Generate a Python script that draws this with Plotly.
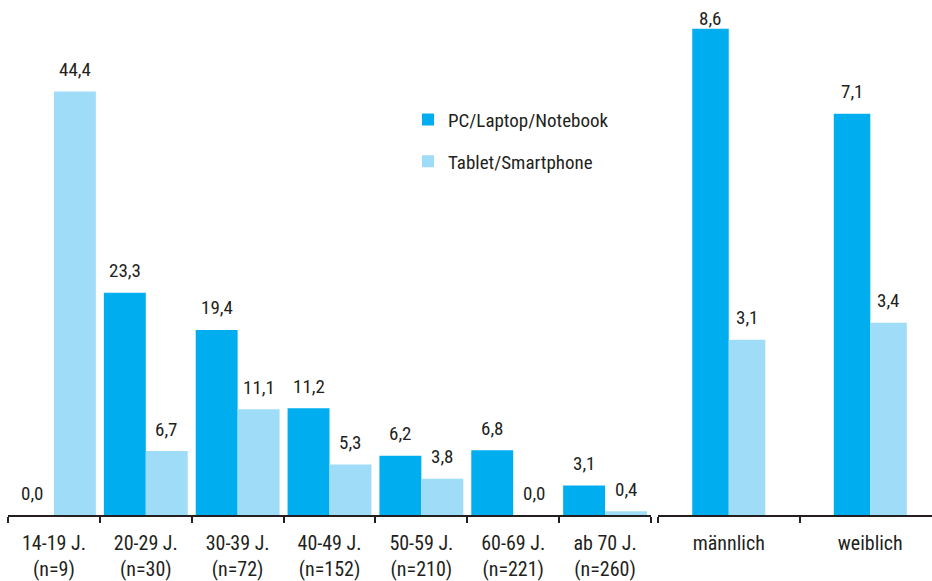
import plotly.graph_objects as go

# Share of respondents by device, split by age group and by gender
age_groups = ["14-19 J.<br>(n=9)", "20-29 J.<br>(n=30)", "30-39 J.<br>(n=72)",
              "40-49 J.<br>(n=152)", "50-59 J.<br>(n=210)", "60-69 J.<br>(n=221)",
              "ab 70 J.<br>(n=260)"]
pc_age = [0.0, 23.3, 19.4, 11.2, 6.2, 6.8, 3.1]
tablet_age = [44.4, 6.7, 11.1, 5.3, 3.8, 0.0, 0.4]

genders = ["männlich", "weiblich"]
pc_gender = [8.6, 7.1]
tablet_gender = [3.1, 3.4]

series_names = ["PC/Laptop/Notebook", "Tablet/Smartphone"]

W, H = 932, 581
MB = 64
FONT = "Liberation Sans Narrow, Arial Narrow, Roboto Condensed, DejaVu Sans Condensed, sans-serif"
TXT = "#231f20"
DARK = "#00aeef"
LIGHT = "#9fdcf7"

left_dom = [8 / W, 651 / W]
right_dom = [658 / W, 1.0]
left_range = [-0.5, 6.5]
right_range = [-0.5, 1.436]
y1_range = [0, 54.0]
y2_range = [0, 9.11]

bw_left = 0.4565   # bar width in category units
bw_right = 0.258

fig = go.Figure()


def add_pair(cats, pc, tab, bw, xa, ya, show):
    fig.add_trace(go.Bar(x=cats, y=pc, offset=-bw, width=bw, marker=dict(color=DARK, line_width=0),
                         name=series_names[0], legendgroup="pc", showlegend=show,
                         xaxis=xa, yaxis=ya, hoverinfo="skip"))
    fig.add_trace(go.Bar(x=cats, y=tab, offset=0, width=bw, marker=dict(color=LIGHT, line_width=0),
                         name=series_names[1], legendgroup="tab", showlegend=show,
                         xaxis=xa, yaxis=ya, hoverinfo="skip"))


add_pair(age_groups, pc_age, tablet_age, bw_left, "x", "y", True)
add_pair(genders, pc_gender, tablet_gender, bw_right, "x2", "y2", False)

plot_h = H - MB


def fmt(v):
    return f"{v:.1f}".replace(".", ",")


def add_labels(cats, pc, tab, bw, dom, xr, yr, xref, yref):
    cat_px = (dom[1] - dom[0]) * W / (xr[1] - xr[0])
    half = bw * cat_px / 2
    for vals, sign in ((pc, -1), (tab, 1)):
        for c, v in zip(cats, vals):
            top_px = plot_h * (1 - v / yr[1])
            fig.add_annotation(x=c, y=v, xref=xref, yref=yref, text=fmt(v), showarrow=False,
                               xshift=sign * half, yshift=min(22, top_px - 19),
                               yanchor="middle", font=dict(size=19, color=TXT, family=FONT))


add_labels(age_groups, pc_age, tablet_age, bw_left, left_dom, left_range, y1_range, "x", "y")
add_labels(genders, pc_gender, tablet_gender, bw_right, right_dom, right_range, y2_range, "x2", "y2")

axis_common = dict(type="category", tickson="boundaries", ticks="outside", ticklen=6, tickwidth=1.5,
                   tickcolor=TXT, showline=True, linewidth=2, linecolor=TXT, showgrid=False,
                   zeroline=False, ticklabelstandoff=9,
                   tickfont=dict(size=20, color=TXT, family=FONT), fixedrange=True)

fig.update_layout(
    width=W, height=H,
    margin=dict(l=0, r=0, t=0, b=MB),
    paper_bgcolor="white", plot_bgcolor="white",
    font=dict(family=FONT, color=TXT, size=19),
    xaxis=dict(domain=left_dom, range=left_range, anchor="y", **axis_common),
    xaxis2=dict(domain=right_dom, range=right_range, anchor="y2", **axis_common),
    yaxis=dict(range=y1_range, visible=False, fixedrange=True),
    yaxis2=dict(range=y2_range, visible=False, anchor="x2", fixedrange=True),
    showlegend=True,
    legend=dict(x=408 / W, y=1 - 101 / plot_h, xanchor="left", yanchor="top",
                bgcolor="rgba(0,0,0,0)", tracegroupgap=14, traceorder="grouped",
                font=dict(size=19, color=TXT, family=FONT)),
)

fig.write_html("out.html")
